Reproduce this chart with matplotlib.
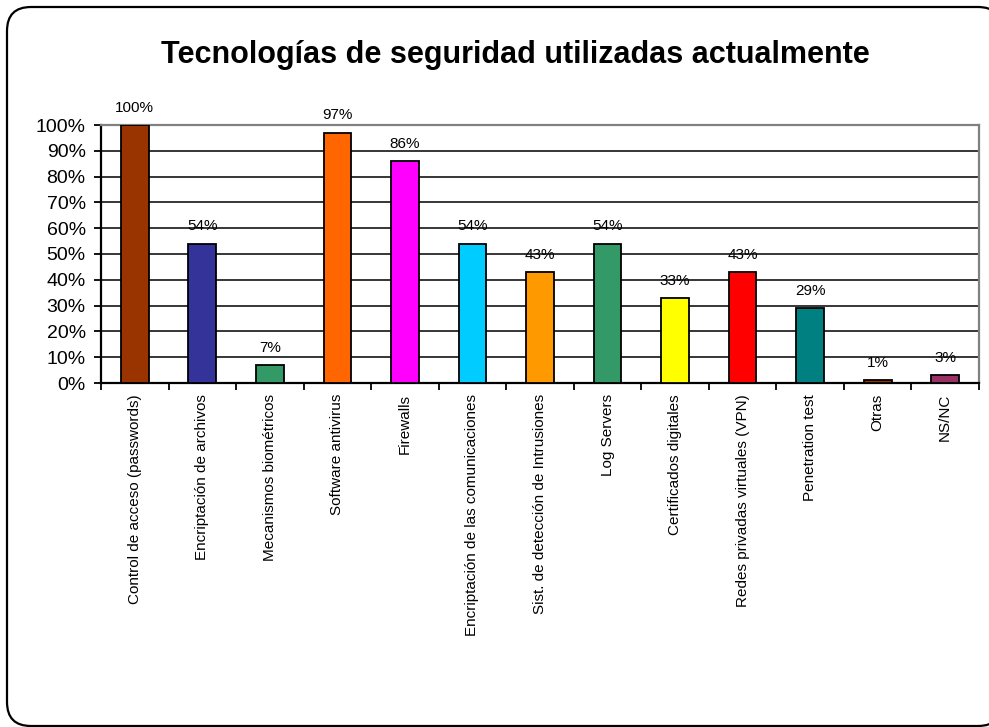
import matplotlib
matplotlib.use("Agg")
import matplotlib.pyplot as plt
from matplotlib.patches import FancyBboxPatch
from matplotlib.ticker import FixedLocator

plt.rcParams['font.family'] = ['Liberation Sans', 'DejaVu Sans']

categorias = [
    "Control de acceso (passwords)",
    "Encriptación de archivos",
    "Mecanismos biométricos",
    "Software antivirus",
    "Firewalls",
    "Encriptación de las comunicaciones",
    "Sist. de detección de Intrusiones",
    "Log Servers",
    "Certificados digitales",
    "Redes privadas virtuales (VPN)",
    "Penetration test",
    "Otras",
    "NS/NC",
]
valores = [100, 54, 7, 97, 86, 54, 43, 54, 33, 43, 29, 1, 3]
colores = ["#993300", "#333399", "#339966", "#FF6600", "#FF00FF", "#00CCFF",
           "#FF9900", "#339966", "#FFFF00", "#FF0000", "#008080", "#993300",
           "#993366"]

fig = plt.figure(figsize=(9.89, 7.27), dpi=100)

# marco redondeado (se sale por la derecha, como en el original)
marco = FancyBboxPatch((0.07, 0.01), 9.95, 7.19,
                       boxstyle="round,pad=0,rounding_size=0.24",
                       transform=fig.dpi_scale_trans, facecolor="white",
                       edgecolor="black", linewidth=1.6, zorder=-1)
fig.patches.append(marco)

ax = fig.add_axes([101 / 989, 1 - 383 / 727, 878 / 989, 258 / 727])
ax.patch.set_alpha(0)
x = list(range(len(categorias)))
ax.bar(x, valores, width=0.41, color=colores, edgecolor="black", linewidth=1.3, zorder=3)

for xi, v in zip(x, valores):
    ax.text(xi, v + 4, f"{v}%", ha="center", va="bottom", fontsize=11)

ax.set_xlim(-0.5, len(categorias) - 0.5)
ax.set_ylim(0, 100)
ax.set_yticks(range(0, 101, 10))
ax.set_yticklabels([f"{t}%" for t in range(0, 101, 10)], fontsize=14)
ax.grid(axis="y", color="black", linewidth=1.1, zorder=0)

ax.set_xticks(x)
ax.set_xticklabels(categorias, rotation=90, fontsize=11)
ax.tick_params(axis="x", length=0, pad=8)
ax.xaxis.set_minor_locator(FixedLocator([i + 0.5 for i in range(-1, len(categorias))]))
ax.tick_params(axis="x", which="minor", length=5, width=1.3, direction="out")
ax.tick_params(axis="y", length=5, width=1.3, direction="out", pad=6)

for s in ["left", "bottom"]:
    ax.spines[s].set_linewidth(1.6)
for s in ["top", "right"]:
    ax.spines[s].set_color("#808080")
    ax.spines[s].set_linewidth(1.6)

fig.text(515 / 989, 1 - 55 / 727, "Tecnologías de seguridad utilizadas actualmente",
         ha="center", va="center", fontsize=22, fontweight="bold")

fig.savefig("out.png", dpi=100)
